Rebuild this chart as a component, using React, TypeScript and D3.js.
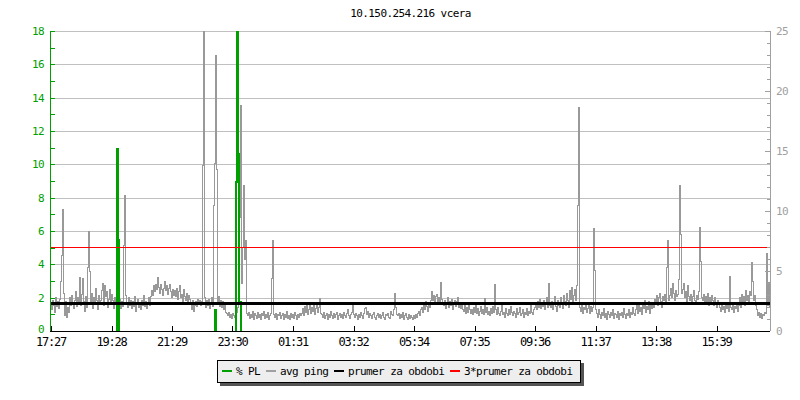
import React from "react";
import * as d3 from "d3";

const TITLE = "10.150.254.216 vcera";
const timeLabels = ["17:27", "19:28", "21:29", "23:30", "01:31", "03:32", "05:34", "07:35", "09:36", "11:37", "13:38", "15:39"];
const tickStepMinutes = 121;
const sampleMinutes = 2;

// avg ping (ms), one sample per 2 minutes, in chunks
const ping1 = [2.4,1.8,2.6,2.2,1.6,2.8,2.1,2.5,1.9,2.7, 4.2,6.3,10.2,3.2,
  1.3,2.5,1.2,2.0,1.6,2.8,2.2,3.0,2.4,1.9,2.6,3.3,2.1,2.8,2.4, 4.5,
  2.2,3.1,4.4,2.5,1.7,2.9,2.0,5.3,8.3,5.0,2.4,3.2,1.9,2.8,2.3,3.6,2.6,1.8,3.0,2.4,
  2.6,3.4,4.0,2.2,3.8,2.9,3.3,2.0,2.7,3.5,2.4,3.1,2.6,1.9,2.8,2.3,
  5.3,3.0,2.2,2.7,1.9,2.5,2.1,7.2,11.3,3.0];
const ping2 = [2.4,2.0,2.8,2.2,2.6,1.9,2.5,2.1,2.9,1.7,2.3,2.7,2.0,2.4,1.8,2.6,2.2,3.0,2.1,2.5,1.9,2.3,2.8,2.2,
  2.9,3.4,3.0,3.8,3.3,3.9,3.5,4.5,3.7,3.2,3.9,3.5,3.0,3.6,4.2,3.4,3.8,3.1,3.6,3.9,3.3,2.8,3.5,3.0,3.4,
  2.9,3.6,2.7,3.3,3.8,2.8,3.1,2.5,3.5,2.9,2.6,3.2,2.4,3.0,2.7];
const ping3 = [2.3,1.8,2.6,1.7,2.2,2.5,2.1,2.7,2.3,2.6,2.2,2.5,13.8,25,2.8,
  2.0,2.6,2.2,2.7,1.9,2.4,2.8,2.1, 10.5,14,23,13.5,
  2.4,2.9,2.1,2.6,2.0,2.5,1.8,2.2,1.6, 1.5,1.3,1.6,1.2,1.4,1.1,1.5,1.3,1.2,
  1.4,1.6,2.0,6.5,9.5,18.8,4.0,7.0,12.2,6.0,7.6,1.5];
const ping4 = [1.3,1.6,1.1,1.4,1.2,1.7,1.0,1.5,1.3,1.1,1.6,1.2,1.4,1.0,1.5,1.3,1.7,1.1,1.4,1.2,1.6,1.0,1.3,1.5,
  4.4,7.6,1.4,
  1.2,1.5,1.0,1.4,1.3,1.6,1.1,1.3,1.5,1.0,1.4,1.2,1.7,1.1,1.3,1.0,1.5,1.2,1.4,1.1,1.6,1.3,1.0,1.4,1.2,1.5,1.3,
  1.5,1.9,1.3,2.1,1.6,2.3,1.4,1.8,2.2,1.5,2.0,1.7,2.4,1.4,1.9,2.2,1.6,2.0,2.75,1.5];
const ping5 = [1.4,1.2,1.6,1.1,1.3,1.5,1.0,1.4,1.2,1.7,1.3,1.1,1.5,1.2,1.4,1.6,1.0,1.3,1.5,1.2,1.4,1.1,1.6,1.3,1.2,1.5,1.8,1.3,1.1,1.4,
  1.6,2.2,1.4,1.2,1.5,1.3,1.0,1.4,1.2,1.6,1.3,1.1,1.5,1.9,2.0,1.4,1.7,1.2,1.5,1.3,1.1,1.4,1.6,1.2,1.0,1.3,1.5,1.2,1.4,1.1,1.3,1.6,1.2,1.0,1.4,1.3,1.5,1.2,1.1,1.7,1.4,1.3,1.8,
  3.2,2.0,1.4,
  1.3,1.5,1.1,1.4,1.2,1.6,1.0,1.3,1.5,1.2,1.0,1.4,1.1,1.3];
const ping6 = [1.2,1.0,1.3,1.1,1.4,1.2,1.5,1.7,1.3,1.8,
  2.0,1.6,2.3,1.8,2.5,2.1,1.7,2.4,2.0,2.6,3.3,
  2.6,3.0,2.4,2.9,3.1,2.5,2.8,2.3,4.1,2.7,2.4,
  2.2,2.6,1.9,2.4,2.8,2.0,2.5,2.2,2.7,1.8,2.3,2.6,2.1,2.5,2.8,2.0,2.4,1.9,2.3,1.8,
  1.7,2.2,1.5,2.0,1.6,2.3,1.8,1.5,
  1.8,1.4,2.0,1.6,2.2,1.5,1.9,1.3,1.7,2.1,1.5,1.8,1.4,2.75,1.6,2.0,1.4,1.7,1.3,1.9,1.5,2.1,1.6,3.9];
const ping7 = [1.8,1.4,2.0,1.5,1.3,1.7,2.2,1.4,1.6,1.2,1.9,1.5,1.3,1.8,1.4,2.1,1.6,1.3,1.7,1.5,1.2,1.9,1.4,1.6,2.0,1.3,1.5,1.8,1.2,1.6,1.4,1.9,1.3,1.7,1.5,2.2,1.6,1.4,1.8,2.0,
  2.2,1.8,2.5,2.0,2.7,1.9,2.4,2.1,2.6,1.8,2.3,2.8,2.0,4.0,2.2,
  2.0,2.5,1.8,2.3,2.9,2.1,1.7,2.6,2.2,2.0,2.8,2.4,1.9,3.0,2.5,2.2,3.2,2.6,2.0,3.4,2.7,3.7,2.4,3.0,3.5,2.6,3.8,
  10.5,18.7,2.0,
  1.7,2.2,1.5,2.0,1.8,2.4,1.6,1.9,2.3,1.5,2.1,1.7,2.0, 8.6,5.1,1.8];
const ping8 = [1.5,1.2,1.8,1.4,1.1,1.6,1.3,1.9,1.2,1.5,1.0,1.7,1.4,1.2,1.6,1.3,1.8,1.1,1.5,1.4,1.2,1.7,1.0,1.5,1.3,1.6,1.2,1.9,1.4,1.1,1.5,1.3,1.8,1.2,1.6,1.4,2.0,1.5,1.3,
  1.8,2.2,1.5,2.4,1.7,2.0,1.4,2.3,1.9,2.6,1.6,2.1,1.8,2.5,1.5,2.2,1.9,2.4,2.0,2.7,
  2.4,3.0,2.2,2.8,3.2,2.5,2.0,2.9,2.6,3.1,2.3,
  5.3,7.6,2.6,
  3.0,3.6,2.8,4.0,3.2,2.6,3.4,2.9,3.1,4.3,
  12.2,8.1,3.2];
const ping9 = [3.5,4.0,2.8,3.3,2.5,3.8,2.9,2.6,3.1,2.4,2.9,3.4,2.6,2.3,3.0,2.7,3.3,
  8.7,5.8,2.8,
  2.6,3.1,2.3,2.9,2.5,3.2,2.2,2.8,2.4,3.0,2.6,2.2,2.8,2.4,2.0,2.6,2.3,
  2.0,1.7,2.3,1.8,2.1,1.6,2.4,1.9,2.2,1.7,4.6,2.0,1.8,2.3,1.6,2.1,1.9,2.4,1.7,
  2.2,2.8,2.0,3.1,2.5,2.9,2.2,3.4,2.6,3.0,2.4,3.3,
  3.0,5.75,4.2,
  2.6,3.0,2.2,1.8,1.3,1.6,1.2,1.5,1.1,1.4,1.3,1.6,
  1.5,6.5,2.2,4.1,2.0];
const pingMs = [...ping1, ...ping2, ...ping3, ...ping4, ...ping5, ...ping6, ...ping7, ...ping8, ...ping9];

// packet loss (%) – sample index and value of the non-zero samples
const plIndex = [66, 67, 164, 185, 186, 187, 188, 189];
const plValues = [11, 5.5, 1.3, 9, 18.5, 10.7, 1.8, 1.8];

const avgPingMs = 2.33;
const leftMax = 18;
const rightMax = 25;
const leftLabelTicks = [0, 2, 4, 6, 8, 10, 12, 14, 16, 18];
const rightLabelTicks = [0, 5, 10, 15, 20, 25];

const legendItems = [
  { label: "% PL", color: "#00a000" },
  { label: "avg ping", color: "#a0a0a0" },
  { label: "prumer za obdobi", color: "#000000" },
  { label: "3*prumer za obdobi", color: "#ff0000" },
];

const FONT = "'DejaVu Sans Mono', monospace";

export default function App() {
  const W = 800, H = 400;
  const left = 51, right = 770, top = 31, bottom = 331;
  const n = pingMs.length;
  const totalMin = (n - 1) * sampleMinutes;
  const x = d3.scaleLinear().domain([0, totalMin]).range([left, right]);
  const yL = d3.scaleLinear().domain([0, leftMax]).range([bottom, top]);
  const yR = d3.scaleLinear().domain([0, rightMax]).range([bottom, top]);
  const crisp = (v: number) => Math.round(v) + 0.5;

  const pl = pingMs.map(() => 0);
  plIndex.forEach((idx, k) => { pl[idx] = plValues[k]; });

  const pingLine = d3.line<number>().curve(d3.curveStep).x((_, i) => x(i * sampleMinutes)).y((d) => crisp(yR(d)));
  const plLine = d3.line<number>().curve(d3.curveStep).x((_, i) => x(i * sampleMinutes)).y((d) => crisp(yL(d)));

  const minorLeft = d3.range(0, leftMax + 1, 1);
  const minorRight = d3.range(0, rightMax + 1, 1);
  const xTicks = timeLabels.map((_, k) => k * tickStepMinutes);

  const textStyle = { fontFamily: FONT, fontSize: 11, letterSpacing: -0.6 } as const;

  // legend layout (6px monospace advance)
  const charW = 6;
  let lx = 222;
  const legendPos = legendItems.map((it) => {
    const p = { ...it, x: lx, tx: lx + 14 };
    lx = p.tx + it.label.length * charW + 6;
    return p;
  });

  return (
    <svg width={W} height={H} style={{ position: "absolute", left: 0, top: 0, background: "#fff" }}>
      <defs>
        <clipPath id="plot">
          <rect x={left} y={top} width={right - left + 1} height={bottom - top + 1} />
        </clipPath>
      </defs>
      <rect x={0} y={0} width={W} height={H} fill="#fff" />
      <text x={(left + right) / 2} y={17} textAnchor="middle" style={textStyle} fill="#000">{TITLE}</text>

      {/* grid */}
      <g shapeRendering="crispEdges">
        {leftLabelTicks.filter((t) => t > 0).map((t) => (
          <line key={"g" + t} x1={left} x2={right} y1={crisp(yL(t))} y2={crisp(yL(t))} stroke="#c0c0c0" />
        ))}
      </g>

      {/* series */}
      <g clipPath="url(#plot)">
        <path d={pingLine(pingMs) || ""} fill="none" stroke="#999999" strokeWidth={1} shapeRendering="crispEdges" />
        <path d={plLine(pl) || ""} fill="none" stroke="#00a000" strokeWidth={2} shapeRendering="crispEdges" />
        <line x1={left} x2={right} y1={crisp(yR(avgPingMs * 3))} y2={crisp(yR(avgPingMs * 3))} stroke="#ff0000" strokeWidth={1} shapeRendering="crispEdges" />
        <line x1={left} x2={right} y1={Math.round(yR(avgPingMs))} y2={Math.round(yR(avgPingMs))} stroke="#000" strokeWidth={3} shapeRendering="crispEdges" />
      </g>

      {/* left axis */}
      <g shapeRendering="crispEdges">
        <line x1={left - 0.5} x2={left - 0.5} y1={top} y2={bottom} stroke="#00a000" />
        {minorLeft.map((t) => (
          <line key={"lt" + t} x1={left} x2={left + 4} y1={crisp(yL(t))} y2={crisp(yL(t))} stroke="#00a000" />
        ))}
      </g>
      {leftLabelTicks.map((t) => (
        <text key={"ll" + t} x={44} y={yL(t) - (t === 0 ? 2 : 0)} dy="0.35em" textAnchor="end" style={textStyle} fill="#00a000">{t}</text>
      ))}

      {/* right axis */}
      <g shapeRendering="crispEdges">
        <line x1={right + 0.5} x2={right + 0.5} y1={top} y2={bottom} stroke="#a0a0a0" />
        {minorRight.map((t) => (
          <line key={"rt" + t} x1={right - (t % 5 === 0 ? 5 : 3)} x2={right} y1={crisp(yR(t))} y2={crisp(yR(t))} stroke="#a0a0a0" />
        ))}
      </g>
      {rightLabelTicks.map((t) => (
        <text key={"rl" + t} x={776} y={yR(t)} dy="0.35em" textAnchor="start" style={textStyle} fill="#a0a0a0">{t}</text>
      ))}

      {/* x axis */}
      <g shapeRendering="crispEdges">
        <line x1={left - 1} x2={right} y1={bottom + 0.5} y2={bottom + 0.5} stroke="#000" />
        {xTicks.map((m) => (
          <line key={"xt" + m} x1={crisp(x(m))} x2={crisp(x(m))} y1={bottom - 5} y2={bottom} stroke="#000" />
        ))}
      </g>
      {xTicks.map((m, k) => (
        <text key={"xl" + m} x={x(m)} y={346} textAnchor="middle" style={{ ...textStyle, fontSize: 12, letterSpacing: -1.2 }} fill="#000">{timeLabels[k]}</text>
      ))}

      {/* legend */}
      <g shapeRendering="crispEdges">
        <rect x={220} y={363} width={364} height={23} fill="#555" />
        <rect x={217.5} y={360.5} width={363} height={22} fill="#eeeeee" stroke="#000" />
        {legendPos.map((it) => (
          <line key={"lg" + it.label} x1={it.x} x2={it.x + 10} y1={371} y2={371} stroke={it.color} strokeWidth={2} />
        ))}
      </g>
      {legendPos.map((it) => (
        <text key={"lt" + it.label} x={it.tx} y={375} style={textStyle} fill="#000">{it.label}</text>
      ))}
    </svg>
  );
}
